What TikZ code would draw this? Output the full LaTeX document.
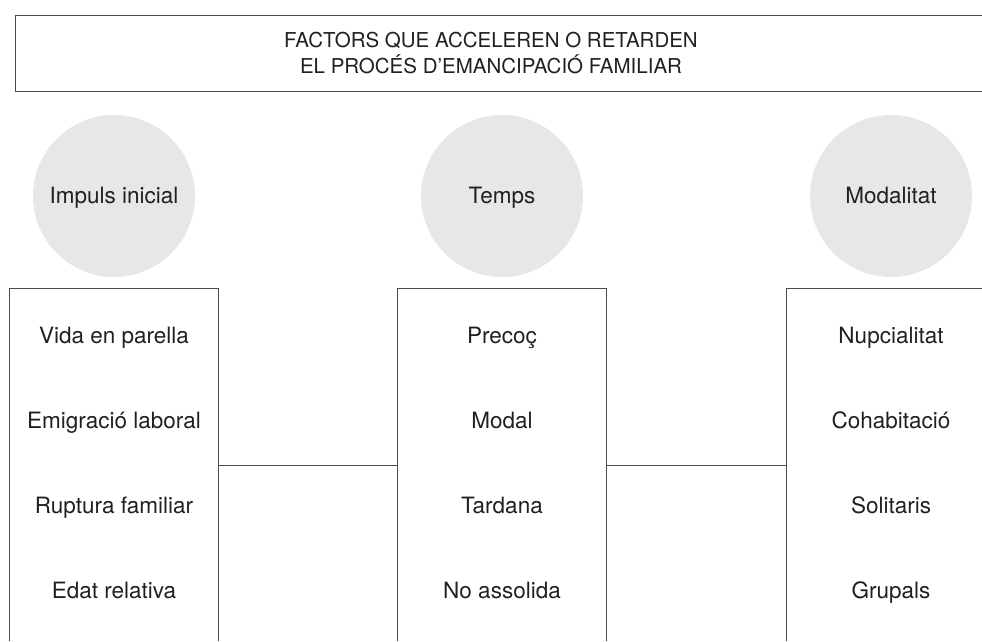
\documentclass[tikz,border=0pt]{standalone}
\usepackage{fontspec}
\setmainfont{TeX Gyre Heros}
\usepackage{xcolor}
\usetikzlibrary{positioning}
\definecolor{ink}{HTML}{231F20}
\definecolor{rule}{HTML}{4D4D4F}
\definecolor{disc}{HTML}{E6E7E8}

\begin{document}
\begin{tikzpicture}[
    x=1pt, y=-1pt,
    every node/.style={text=ink, font=\fontsize{22.5}{27}\selectfont},
    line/.style={draw=rule, line width=0.9pt},
    factor/.style={circle, fill=disc, minimum size=162pt, inner sep=0pt},
    label text/.style={text height=0.72em, text depth=0.2em, yshift=-5pt},
    col/.style={rectangle, minimum width=208pt, minimum height=352pt, inner sep=0pt},
    item/.style={inner sep=0pt, label text}
]
\useasboundingbox (0,0) rectangle (982,642);
\clip (0,0) rectangle (982,642);

% title
\draw[line] (1000,15) -| (15,91) -- (1000,91);
\node[align=center, font=\fontsize{20.5}{26.5}\selectfont] (title) at (491,53)
    {FACTORS QUE ACCELEREN O RETARDEN\\EL PROCÉS D’EMANCIPACIÓ FAMILIAR};

% factors
\node[factor] (impuls) at (114,196) {};
\node[factor] (temps) at (502,196) {};
\node[factor] (modal) at (891,196) {};
\node[item] (impulst) at (impuls) {Impuls inicial};
\node[item] (tempst) at (temps) {Temps};
\node[item] (modalt) at (modal) {Modalitat};

% columns
\node[col] (lbox) at (114,465) {};
\node[col] (mbox) at (502,465) {};
\node[col] (rbox) at (891,465) {};
\draw[line] (lbox.south west) |- (lbox.north east) -- (lbox.south east);
\draw[line] (mbox.south west) |- (mbox.north east) -- (mbox.south east);
\draw[line] (rbox.south west) |- (rbox.north east) -- (rbox.south east);

\draw[line] (lbox.east) -- (mbox.west);
\draw[line] (mbox.east) -- (rbox.west);

% items
\node[item] (l1) at (114,336) {Vida en parella};
\node[item] (l2) at (114,421) {Emigració laboral};
\node[item] (l3) at (114,506) {Ruptura familiar};
\node[item] (l4) at (114,591) {Edat relativa};

\node[item] (m1) at (502,336) {Precoç};
\node[item] (m2) at (502,421) {Modal};
\node[item] (m3) at (502,506) {Tardana};
\node[item] (m4) at (502,591) {No assolida};

\node[item] (r1) at (891,336) {Nupcialitat};
\node[item] (r2) at (891,421) {Cohabitació};
\node[item] (r3) at (891,506) {Solitaris};
\node[item] (r4) at (891,591) {Grupals};
\end{tikzpicture}
\end{document}
